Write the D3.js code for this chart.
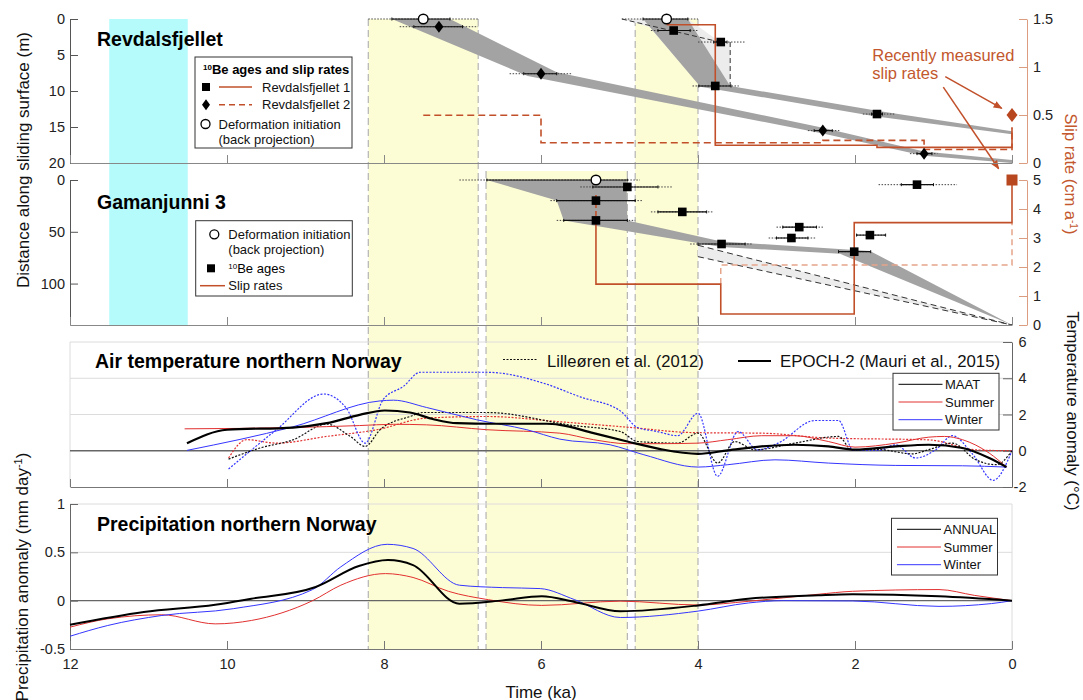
<!DOCTYPE html>
<meta charset="utf-8">
<head>
  <script src="https://cdn.jsdelivr.net/npm/d3@7"></script>
</head>
<style>
  body { margin: 0; background: #fff; }
  svg { font-family: "Liberation Sans", Arial, sans-serif; }
  .axis text { font-size: 14.5px; fill: #222; }
</style>
<body></body>
<script>
// ---- shared time axis ----
var kaTicks = [12, 10, 8, 6, 4, 2, 0];
var cyanBand = [11.5, 10.5];
var yellowBands = [[8.2, 6.8], [6.7, 4.9], [4.8, 4.0]];
var yellowInTopPanel = [true, false, true];

// ---- Revdalsfjellet (t ka, d m) ----
var revDepthTicks = [0, 5, 10, 15, 20];
var revSlipTicks = [0, 0.5, 1, 1.5];
var revInit = [
  {t: 7.5, d: 0, s: [7.9, 7.16], e: [8.2, 6.8]},
  {t: 4.4, d: 0, s: [4.7, 4.13], e: [4.97, 4.0]}
];
var rev1Ages = [
  {t: 4.31, d: 1.6, s: [4.51, 4.1], e: [4.6, 4.0]},
  {t: 3.71, d: 3.2, s: [3.8, 3.63], e: [4.0, 3.4]},
  {t: 3.78, d: 9.3, s: [3.99, 3.58], e: [4.07, 3.48]},
  {t: 1.72, d: 13.2, s: [1.79, 1.65], e: [1.9, 1.5]}
];
var rev2Ages = [
  {t: 7.3, d: 1.07, s: [7.62, 7.0], e: [7.8, 6.8]},
  {t: 6.0, d: 7.6, s: [6.22, 5.8], e: [6.4, 5.6]},
  {t: 2.41, d: 15.5, s: [2.52, 2.29], e: [2.6, 2.2]},
  {t: 1.12, d: 18.7, s: [1.21, 1.02], e: [1.3, 0.95]}
];
var rev2Band = [[7.9, 0], [7.16, 0], [5.8, 7.4], [2.41, 15.1], [1.12, 18.4], [0, 19.6],
  [0, 20], [1.12, 19.0], [2.41, 15.9], [6.17, 7.9]];
var rev1BandLight = [[4.97, 0], [4.13, 0], [3.72, 3.2], [3.59, 3.2], [3.59, 9.3], [3.97, 9.3], [4.62, 1.1]];
var rev1Band = [[4.7, 0], [4.13, 0], [3.59, 9.3], [1.68, 12.8], [0, 15.6], [0, 16.0], [1.75, 13.5], [3.97, 9.4]];
var rev1Dashed = [[[4.97, 0], [3.72, 3.2]], [[3.59, 3.2], [3.59, 9.3]]];
var rev1Slip = [[4.4, 1.44], [3.78, 1.44], [3.78, 0.185], [1.72, 0.185], [1.72, 0.163], [0, 0.163], [0, 0.37]];
var rev2Slip = [[7.5, 0.497], [6.0, 0.497], [6.0, 0.211], [2.41, 0.211], [2.41, 0.236], [1.12, 0.236],
  [1.12, 0.14], [0, 0.14], [0, 0.37]];
var revRecent = [0, 0.5];
var recentArrows = [[[0.85, 0.9], [0.13, 0.57]], [[0.875, 0.79], [0.17, -0.06]]];

// ---- Gamanjunni 3 ----
var gamDepthTicks = [0, 50, 100];
var gamSlipTicks = [0, 1, 2, 3, 4, 5];
var gamInit = [{t: 5.3, d: 0, s: [6.69, 4.9], e: [7.04, 4.74]}];
var gamAges = [
  {t: 4.9, d: 6.7, s: [5.34, 4.51], e: [5.5, 4.32]},
  {t: 5.3, d: 19.9, s: [5.8, 4.8], e: [5.88, 4.7]},
  {t: 5.3, d: 39, s: [5.71, 4.9], e: [5.8, 4.8]},
  {t: 4.2, d: 30.8, s: [4.51, 3.89], e: [4.6, 3.8]},
  {t: 3.7, d: 61.8, s: [4.0, 3.4], e: [4.1, 3.3]},
  {t: 2.71, d: 45.5, s: [2.92, 2.49], e: [3.0, 2.4]},
  {t: 2.81, d: 56, s: [3.0, 2.6], e: [3.1, 2.5]},
  {t: 1.81, d: 53.2, s: [1.98, 1.61], e: [1.98, 1.61]},
  {t: 2.01, d: 69.2, s: [2.21, 1.8], e: [2.21, 1.8]},
  {t: 1.21, d: 4.5, s: [1.41, 1.0], e: [1.7, 0.7]}
];
var gamBand = [[6.69, 0], [4.91, 0], [4.9, 39], [3.7, 59.3], [1.81, 68.5], [0, 140],
  [2.19, 71.3], [3.7, 64.7], [5.71, 39], [5.8, 19.9]];
var gamBandLight = [[4.0, 63], [0, 140], [4.0, 74]];
var gamSlip = [[5.3, 3.6], [5.3, 1.41], [3.71, 1.41], [3.71, 0.38], [2.01, 0.38], [2.01, 3.53], [0, 3.53], [0, 5]];
var gamSlipTop = [[5.3, 4.48], [5.3, 3.6]];
var gamSlipAlt = [[3.71, 1.41], [3.71, 2.07], [0, 2.07], [0, 3.53]];
var gamRecent = [0, 5];

// ---- air temperature anomaly (t ka, degC) ----
var tempTicks = [-2, 0, 2, 4, 6];
var epochMaat = [[10.51, 0.42], [10.0, 1.16], [9.16, 1.28], [8.73, 1.52], [8.31, 1.98], [7.99, 2.22],
  [7.67, 2.11], [7.37, 1.74], [7.07, 1.52], [6.61, 1.49], [5.93, 1.49], [5.76, 1.43], [5.33, 0.97],
  [4.9, 0.51], [4.48, 0.09], [4.0, -0.17], [3.62, 0.02], [3.19, 0.24], [2.77, 0.33], [2.34, 0.24],
  [2.0, 0.06], [1.48, 0.24], [1.06, 0.33], [0.63, 0.15], [0.29, -0.4], [0.07, -0.9]];
var epochSummer = [[10.54, 1.21], [9.16, 1.28], [8.31, 1.39], [7.88, 1.46], [7.46, 1.43], [6.69, 1.16],
  [5.76, 0.97], [5.33, 0.61], [4.9, 0.39], [4.48, 0.39], [4.0, 0.42], [3.62, 0.61], [3.19, 0.83],
  [2.77, 0.83], [2.34, 0.51], [2.0, 0.2], [1.48, 0.42], [1.06, 0.75], [0.86, 0.79], [0.63, 0.61],
  [0.29, -0.13], [0.07, -0.9]];
var epochWinter = [[10.51, 0.02], [9.16, 1.32], [8.05, 2.75], [7.88, 2.79], [7.46, 2.39], [6.82, 1.71],
  [6.18, 1.16], [5.76, 0.64], [5.12, 0.33], [4.69, -0.22], [4.0, -0.9], [3.62, -0.77], [3.02, -0.5],
  [2.34, -0.68], [1.48, -0.81], [0.63, -0.83], [0.07, -0.9]];
var lilMaat = [[9.98, -0.46], [9.58, 0.15], [9.16, 0.6], [8.73, 1.47], [8.43, 0.79], [8.24, 0.24],
  [8.05, 1.16], [7.67, 1.89], [7.5, 2.11], [6.69, 2.11], [5.6, 1.4], [4.99, 1.06], [4.77, 0.51],
  [4.26, 0.42], [4.0, 0.97], [3.75, -0.68], [3.53, 0.51], [3.28, 0.05], [2.77, 0.42], [2.21, 0.79],
  [2.04, 0.06], [1.7, 0.06], [1.27, -0.17], [1.06, 0.06], [0.76, 0.42], [0.46, -0.5], [0.2, -0.77], [0, 0]];
var lilSummer = [[9.98, -0.4], [9.75, 0.61], [9.37, 0.42], [8.73, 0.79], [8.09, 1.16], [7.46, 1.8],
  [6.69, 1.89], [5.76, 1.6], [4.9, 1.3], [4.05, 1.0], [3.19, 0.97], [2.34, 0.7], [1.06, 0.6],
  [0.46, 0.05], [0, 0]];
var lilWinter = [[9.98, -1.01], [9.37, 1.16], [8.77, 3.13], [8.48, 2.35], [8.24, 0.42], [8.01, 2.83],
  [7.75, 3.56], [7.54, 4.33], [6.69, 4.33], [5.97, 3.73], [5.5, 2.97], [4.99, 2.2], [4.77, 1.28],
  [4.52, 1.06], [4.26, 0.83], [4.0, 2.07], [3.75, -1.41], [3.49, 1.06], [3.24, 0.05], [2.98, 0.42],
  [2.51, 1.67], [2.21, 1.67], [2.02, 0.02], [1.7, 0.02], [1.48, 0.33], [1.23, -0.4], [0.97, 0.06],
  [0.76, 0.83], [0.5, -0.2], [0.24, -1.63], [0, 0]];

// ---- precipitation anomaly (t ka, mm/day) ----
var precipTicks = [-0.5, 0, 0.5, 1];
var precipAnnual = [[12, -0.25], [11.06, -0.118], [10.15, -0.042], [9.69, 0.02], [8.87, 0.142],
  [8.32, 0.358], [7.95, 0.42], [7.63, 0.368], [7.04, -0.031], [6.49, 0.003], [5.99, 0.045],
  [5.57, -0.014], [4.99, -0.11], [4.0, -0.049], [3.36, 0.02], [2.47, 0.056], [2.03, 0.066],
  [0.93, 0.045], [0, 0]];
var precipSummer = [[12, -0.274], [11.52, -0.188], [10.83, -0.146], [10.15, -0.24], [9.69, -0.205],
  [8.91, 0], [8.55, 0.16], [7.98, 0.28], [7.63, 0.24], [7.18, 0.097], [6.67, 0.01], [5.99, -0.049],
  [4.99, -0.005], [4.0, -0.045], [3.36, -0.007], [2.47, 0.066], [2.03, 0.097], [0.93, 0.115],
  [0.48, 0.055], [0, 0]];
var precipWinter = [[12, -0.368], [11.52, -0.257], [10.83, -0.153], [9.92, -0.083], [8.91, 0.115],
  [8.55, 0.35], [7.96, 0.583], [7.63, 0.54], [7.04, 0.16], [6.49, 0.135], [6.01, 0.125], [5.57, 0.01],
  [4.99, -0.174], [4.0, -0.108], [3.36, -0.024], [2.92, 0], [2.03, -0.003], [0.93, -0.059],
  [0.26, -0.03], [0, 0]];

var orange = "#c1502a", orangeLight = "#e6a58a", orangeAxis = "#dc9c80", orangeText = "#c3572d";
var red = "#e23030", blue = "#3535ff";

var width = 1083, height = 700;
var svg = d3.select("body").append("svg")
    .attr("width", width)
    .attr("height", height);

var x = d3.scaleLinear().domain([12, 0]).range([70, 1012]);
var yRev = d3.scaleLinear().domain([0, 20]).range([19, 163]);
var sRev = d3.scaleLinear().domain([0, 1.5]).range([163, 19]);
var yGam = d3.scaleLinear().domain([0, 140]).range([180, 325]);
var sGam = d3.scaleLinear().domain([0, 5]).range([325, 180]);
var yT = d3.scaleLinear().domain([-2, 6]).range([487, 342]);
var yP = d3.scaleLinear().domain([-0.5, 1]).range([649, 504]);

function pathOf(ys) {
  return d3.line().x(function(d) { return x(d[0]); }).y(function(d) { return ys(d[1]); });
}
function diamond(w, h) {
  return "M0," + (-h / 2) + "L" + (w / 2) + ",0L0," + (h / 2) + "L" + (-w / 2) + ",0Z";
}

// background bands
svg.append("rect")
    .attr("x", x(cyanBand[0])).attr("y", yRev(0))
    .attr("width", x(cyanBand[1]) - x(cyanBand[0])).attr("height", yGam(140) - yRev(0))
    .attr("fill", "#b5fbfb");

yellowBands.forEach(function(b, i) {
  var top = yellowInTopPanel[i] ? yRev(0) : 171;
  svg.append("rect")
      .attr("x", x(b[0])).attr("y", top)
      .attr("width", x(b[1]) - x(b[0])).attr("height", yP(-0.5) - top)
      .attr("fill", "#fdfdd5");
  b.forEach(function(v) {
    svg.append("line")
        .attr("x1", x(v)).attr("x2", x(v)).attr("y1", top).attr("y2", yP(-0.5))
        .attr("stroke", "#b4b4b4").attr("stroke-width", 1.2).attr("stroke-dasharray", "7,4");
  });
});

// ---- panel 1 ----
var lineRev = pathOf(yRev);
svg.append("path").attr("d", lineRev(rev2Band) + "Z").attr("fill", "#a3a3a3");
svg.append("path").attr("d", lineRev(rev1BandLight) + "Z").attr("fill", "#ececec");
svg.append("path").attr("d", lineRev(rev1Band) + "Z").attr("fill", "#a3a3a3");
rev1Dashed.forEach(function(seg) {
  svg.append("path").attr("d", lineRev(seg)).attr("fill", "none")
      .attr("stroke", "#333").attr("stroke-width", 1).attr("stroke-dasharray", "5,3");
});

var slipRev = pathOf(sRev);
svg.append("path").attr("d", slipRev(rev2Slip)).attr("fill", "none")
    .attr("stroke", orange).attr("stroke-width", 1.6).attr("stroke-dasharray", "7,4");
svg.append("path").attr("d", slipRev(rev1Slip)).attr("fill", "none")
    .attr("stroke", orange).attr("stroke-width", 1.6);

function drawAges(list, ys, shape) {
  var g = svg.append("g");
  list.forEach(function(a) {
    var yy = ys(a.d);
    g.append("line")
        .attr("x1", x(a.e[0])).attr("x2", x(a.e[1])).attr("y1", yy).attr("y2", yy)
        .attr("stroke", "#444").attr("stroke-width", 1).attr("stroke-dasharray", "1.5,1.5");
    g.append("line")
        .attr("x1", x(a.s[0])).attr("x2", x(a.s[1])).attr("y1", yy).attr("y2", yy)
        .attr("stroke", "#111").attr("stroke-width", 1.1);
    a.s.forEach(function(v) {
      g.append("line")
          .attr("x1", x(v)).attr("x2", x(v)).attr("y1", yy - 1.5).attr("y2", yy + 1.5)
          .attr("stroke", "#111");
    });
  });
  list.forEach(function(a) {
    var px = x(a.t), py = ys(a.d);
    if (shape == "square") {
      g.append("rect").attr("x", px - 4.3).attr("y", py - 4.3).attr("width", 8.6).attr("height", 8.6)
          .attr("fill", "#000");
    } else if (shape == "diamond") {
      g.append("path").attr("d", diamond(9, 12)).attr("transform", "translate(" + px + "," + py + ")")
          .attr("fill", "#000");
    } else {
      g.append("circle").attr("cx", px).attr("cy", py).attr("r", 4.8)
          .attr("fill", "#fff").attr("stroke", "#000").attr("stroke-width", 1.4);
    }
  });
}
drawAges(rev2Ages, yRev, "diamond");
drawAges(rev1Ages, yRev, "square");
drawAges(revInit, yRev, "circle");

// ---- panel 2 ----
var lineGam = pathOf(yGam);
var slipGam = pathOf(sGam);
svg.append("path").attr("d", lineGam(gamBandLight) + "Z").attr("fill", "#ececec");
svg.append("path").attr("d", lineGam([gamBandLight[0], gamBandLight[1]])).attr("fill", "none")
    .attr("stroke", "#333").attr("stroke-dasharray", "6,4");
svg.append("path").attr("d", lineGam([gamBandLight[2], gamBandLight[1]])).attr("fill", "none")
    .attr("stroke", "#333").attr("stroke-dasharray", "6,4");
svg.append("path").attr("d", lineGam(gamBand) + "Z").attr("fill", "#a3a3a3");

svg.append("path").attr("d", slipGam(gamSlipAlt)).attr("fill", "none")
    .attr("stroke", orangeLight).attr("stroke-width", 1.5).attr("stroke-dasharray", "6,4");
svg.append("path").attr("d", slipGam(gamSlip)).attr("fill", "none")
    .attr("stroke", orange).attr("stroke-width", 1.6);
svg.append("path").attr("d", slipGam(gamSlipTop)).attr("fill", "none")
    .attr("stroke", orange).attr("stroke-width", 1.6).attr("stroke-dasharray", "5,3");

drawAges(gamAges, yGam, "square");
drawAges(gamInit, yGam, "circle");

// recently measured slip rates
svg.append("path").attr("d", diamond(11, 14))
    .attr("transform", "translate(" + x(revRecent[0]) + "," + sRev(revRecent[1]) + ")")
    .attr("fill", "#b8461f");
svg.append("rect")
    .attr("x", x(gamRecent[0]) - 5.5).attr("y", sGam(gamRecent[1]) - 5.5)
    .attr("width", 11).attr("height", 11).attr("fill", "#b8461f");

svg.append("defs").append("marker")
    .attr("id", "arrow").attr("viewBox", "0 0 10 10").attr("refX", 9).attr("refY", 5)
    .attr("markerWidth", 9).attr("markerHeight", 9).attr("orient", "auto")
    .attr("markerUnits", "userSpaceOnUse")
  .append("path").attr("d", "M0,1L10,5L0,9Z").attr("fill", orange);
recentArrows.forEach(function(a) {
  svg.append("line")
      .attr("x1", x(a[0][0])).attr("y1", sRev(a[0][1]))
      .attr("x2", x(a[1][0])).attr("y2", sRev(a[1][1]))
      .attr("stroke", orange).attr("stroke-width", 1.5).attr("marker-end", "url(#arrow)");
});
var note = svg.append("text").attr("fill", orangeText).style("font-size", "16.5px");
note.append("tspan").attr("x", x(1.78)).attr("y", sRev(1.06)).text("Recently measured");
note.append("tspan").attr("x", x(1.78)).attr("y", sRev(0.87)).text("slip rates");

// ---- axes of panels 1 & 2 ----
function styleAxis(g, col, textCol) {
  g.selectAll("path").attr("stroke", col);
  g.selectAll("line").attr("stroke", col);
  g.selectAll("text").attr("fill", textCol || "#222");
}
var fmt = function(d) { return String(d); };

styleAxis(svg.append("g").attr("class", "axis").attr("transform", "translate(70,0)")
    .call(d3.axisLeft(yRev).tickValues(revDepthTicks).tickSize(-8).tickSizeOuter(0).tickPadding(5).tickFormat(fmt)), "#555");
styleAxis(svg.append("g").attr("class", "axis").attr("transform", "translate(70,0)")
    .call(d3.axisLeft(yGam).tickValues(gamDepthTicks).tickSize(-8).tickSizeOuter(0).tickPadding(5).tickFormat(fmt)), "#555");
styleAxis(svg.append("g").attr("class", "axis").attr("transform", "translate(0," + yRev(20) + ")")
    .call(d3.axisBottom(x).tickValues(kaTicks).tickSize(-8).tickSizeOuter(0).tickFormat("")), "#888");
styleAxis(svg.append("g").attr("class", "axis").attr("transform", "translate(0," + yGam(140) + ")")
    .call(d3.axisBottom(x).tickValues(kaTicks).tickSize(-8).tickSizeOuter(0).tickFormat("")), "#888");
styleAxis(svg.append("g").attr("class", "axis").attr("transform", "translate(1027,0)")
    .call(d3.axisRight(sRev).tickValues(revSlipTicks).tickSize(-8).tickSizeOuter(0).tickPadding(6).tickFormat(fmt)), orangeAxis, orangeText);
styleAxis(svg.append("g").attr("class", "axis").attr("transform", "translate(1027,0)")
    .call(d3.axisRight(sGam).tickValues(gamSlipTicks).tickSize(-8).tickSizeOuter(0).tickPadding(6).tickFormat(fmt)), orangeAxis, orangeText);

// titles
function title(txt, tx, ty) {
  svg.append("text").attr("x", tx).attr("y", ty).text(txt)
      .style("font-size", "19.5px").style("font-weight", "bold").attr("fill", "#000");
}
title("Revdalsfjellet", 97, 46);
title("Gamanjunni 3", 97, 209);

// legends panels 1 & 2
function legendBox(bx, by, bw, bh) {
  svg.append("rect").attr("x", bx).attr("y", by).attr("width", bw).attr("height", bh)
      .attr("fill", "#fff").attr("stroke", "#333").attr("stroke-width", 1);
}
function legText(txt, tx, ty, bold) {
  return svg.append("text").attr("x", tx).attr("y", ty).text(txt)
      .style("font-size", "13px").style("font-weight", bold ? "bold" : "normal").attr("fill", "#111");
}
legendBox(195, 57, 157, 91);
var lt = svg.append("text").attr("x", 203).attr("y", 74).style("font-size", "13px").style("font-weight", "bold");
lt.append("tspan").text("10").style("font-size", "8px").attr("dy", -4);
lt.append("tspan").text("Be ages and slip rates").attr("dy", 4);
svg.append("rect").attr("x", 202).attr("y", 83).attr("width", 8).attr("height", 8).attr("fill", "#000");
svg.append("line").attr("x1", 219).attr("x2", 252).attr("y1", 87).attr("y2", 87)
    .attr("stroke", orange).attr("stroke-width", 1.5);
legText("Revdalsfjellet 1", 262, 91.5);
svg.append("path").attr("d", diamond(8, 11)).attr("transform", "translate(206,104.7)").attr("fill", "#000");
svg.append("line").attr("x1", 219).attr("x2", 252).attr("y1", 104.7).attr("y2", 104.7)
    .attr("stroke", orange).attr("stroke-width", 1.5).attr("stroke-dasharray", "6,4");
legText("Revdalsfjellet 2", 262, 109.2);
svg.append("circle").attr("cx", 205.5).attr("cy", 124).attr("r", 4.5)
    .attr("fill", "#fff").attr("stroke", "#000").attr("stroke-width", 1.3);
legText("Deformation initiation", 218.5, 128.5);
legText("(back projection)", 218.5, 144);

legendBox(195.7, 220.7, 156.6, 75.3);
svg.append("circle").attr("cx", 214.3).attr("cy", 234.3).attr("r", 4.5)
    .attr("fill", "#fff").attr("stroke", "#000").attr("stroke-width", 1.3);
legText("Deformation initiation", 228.3, 238.8);
legText("(back projection)", 228.3, 253.8);
svg.append("rect").attr("x", 207).attr("y", 264.3).attr("width", 8).attr("height", 8).attr("fill", "#000");
var lb = svg.append("text").attr("x", 228.3).attr("y", 272.8).style("font-size", "13px");
lb.append("tspan").text("10").style("font-size", "8px").attr("dy", -4);
lb.append("tspan").text("Be ages").attr("dy", 4);
svg.append("line").attr("x1", 200).attr("x2", 225).attr("y1", 285.7).attr("y2", 285.7)
    .attr("stroke", orange).attr("stroke-width", 1.5);
legText("Slip rates", 228.3, 290.2);

// ---- temperature panel ----
var gridCol = "#dcdcdc";
[6, 4, 2].forEach(function(v) {
  svg.append("line").attr("x1", x(12)).attr("x2", x(0)).attr("y1", yT(v)).attr("y2", yT(v))
      .attr("stroke", gridCol);
});
svg.append("line").attr("x1", x(12)).attr("x2", x(12)).attr("y1", yT(6)).attr("y2", yT(-2))
    .attr("stroke", gridCol);
svg.append("line").attr("x1", x(12)).attr("x2", x(0)).attr("y1", yT(0)).attr("y2", yT(0))
    .attr("stroke", "#666").attr("stroke-width", 1.3);
styleAxis(svg.append("g").attr("class", "axis").attr("transform", "translate(0," + yT(-2) + ")")
    .call(d3.axisBottom(x).tickValues(kaTicks).tickSize(-8).tickSizeOuter(0).tickFormat("")), "#777");
var tAxis = svg.append("g").attr("class", "axis").attr("transform", "translate(" + x(0) + ",0)")
    .call(d3.axisRight(yT).tickValues(tempTicks).tickSize(-9).tickSizeOuter(0).tickFormat(fmt));
styleAxis(tAxis, "#666");
tAxis.selectAll("text").attr("x", 14.5).attr("text-anchor", "end");

var curveT = d3.line().x(function(d) { return x(d[0]); }).y(function(d) { return yT(d[1]); })
    .curve(d3.curveMonotoneX);
function tLine(data, col, w, dash) {
  var p = svg.append("path").attr("d", curveT(data)).attr("fill", "none")
      .attr("stroke", col).attr("stroke-width", w);
  if (dash) p.attr("stroke-dasharray", dash);
}
tLine(lilSummer, red, 1.2, "2,1.5");
tLine(lilWinter, blue, 1.2, "2,1.5");
tLine(lilMaat, "#111", 1.2, "2,1.5");
tLine(epochSummer, red, 1);
tLine(epochWinter, blue, 1);
tLine(epochMaat, "#000", 2.2);

title("Air temperature northern Norway", 95, 368);
svg.append("line").attr("x1", 503).attr("x2", 537).attr("y1", 359.5).attr("y2", 359.5)
    .attr("stroke", "#111").attr("stroke-width", 1.2).attr("stroke-dasharray", "2,1.5");
svg.append("text").attr("x", 547).attr("y", 366.5).text("Lilleøren et al. (2012)")
    .style("font-size", "16.6px").attr("fill", "#111");
svg.append("line").attr("x1", 738).attr("x2", 771).attr("y1", 361).attr("y2", 361)
    .attr("stroke", "#000").attr("stroke-width", 2.2);
svg.append("text").attr("x", 780).attr("y", 366.5).text("EPOCH-2 (Mauri et al., 2015)")
    .style("font-size", "16.8px").attr("fill", "#111");

function seasonLegend(bx, by, names) {
  legendBox(bx, by, 106, 56.7);
  var cols = ["#000", red, blue];
  names.forEach(function(n, i) {
    var yy = by + 11 + i * 17.7;
    svg.append("line").attr("x1", bx + 5.5).attr("x2", bx + 49.5).attr("y1", yy).attr("y2", yy)
        .attr("stroke", cols[i]).attr("stroke-width", 1);
    legText(n, bx + 52, yy + 4.6);
  });
}
seasonLegend(893, 373.3, ["MAAT", "Summer", "Winter"]);

// ---- precipitation panel ----
[1, 0.5].forEach(function(v) {
  svg.append("line").attr("x1", x(12)).attr("x2", x(0)).attr("y1", yP(v)).attr("y2", yP(v))
      .attr("stroke", gridCol);
});
svg.append("line").attr("x1", x(0)).attr("x2", x(0)).attr("y1", yP(1)).attr("y2", yP(-0.5))
    .attr("stroke", gridCol);
svg.append("line").attr("x1", x(12)).attr("x2", x(0)).attr("y1", yP(0)).attr("y2", yP(0))
    .attr("stroke", "#666").attr("stroke-width", 1.3);
styleAxis(svg.append("g").attr("class", "axis").attr("transform", "translate(" + x(12) + ",0)")
    .call(d3.axisLeft(yP).tickValues(precipTicks).tickSize(-8).tickSizeOuter(0).tickPadding(5).tickFormat(fmt)), "#666");
styleAxis(svg.append("g").attr("class", "axis").attr("transform", "translate(0," + yP(-0.5) + ")")
    .call(d3.axisBottom(x).tickValues(kaTicks).tickSize(-8).tickSizeOuter(0).tickPadding(10).tickFormat(fmt)), "#777");

var curveP = d3.line().x(function(d) { return x(d[0]); }).y(function(d) { return yP(d[1]); })
    .curve(d3.curveMonotoneX);
svg.append("path").attr("d", curveP(precipSummer)).attr("fill", "none").attr("stroke", red).attr("stroke-width", 1);
svg.append("path").attr("d", curveP(precipWinter)).attr("fill", "none").attr("stroke", blue).attr("stroke-width", 1);
svg.append("path").attr("d", curveP(precipAnnual)).attr("fill", "none").attr("stroke", "#000").attr("stroke-width", 2);

title("Precipitation northern Norway", 97, 530.5);
seasonLegend(891.5, 518.3, ["ANNUAL", "Summer", "Winter"]);

// ---- axis titles ----
svg.append("text").attr("transform", "translate(29,160) rotate(-90)").attr("text-anchor", "middle")
    .style("font-size", "17px").attr("fill", "#111").text("Distance along sliding surface (m)");
var pl = svg.append("text").attr("transform", "translate(28,577) rotate(-90)").attr("text-anchor", "middle")
    .style("font-size", "17px").attr("fill", "#111");
pl.append("tspan").text("Precipitation anomaly (mm day");
pl.append("tspan").text("-1").style("font-size", "11px").attr("dy", -6);
pl.append("tspan").text(")").attr("dy", 6);
var sl = svg.append("text").attr("transform", "translate(1065,174) rotate(90)").attr("text-anchor", "middle")
    .style("font-size", "16.5px").attr("fill", orangeText);
sl.append("tspan").text("Slip rate (cm a");
sl.append("tspan").text("-1").style("font-size", "10px").attr("dy", -5);
sl.append("tspan").text(")").attr("dy", 5);
svg.append("text").attr("transform", "translate(1067,411) rotate(90)").attr("text-anchor", "middle")
    .style("font-size", "17px").attr("fill", "#111").text("Temperature anomaly (°C)");
svg.append("text").attr("x", x(6)).attr("y", 697.5).attr("text-anchor", "middle")
    .style("font-size", "17px").attr("fill", "#111").text("Time (ka)");
</script>
